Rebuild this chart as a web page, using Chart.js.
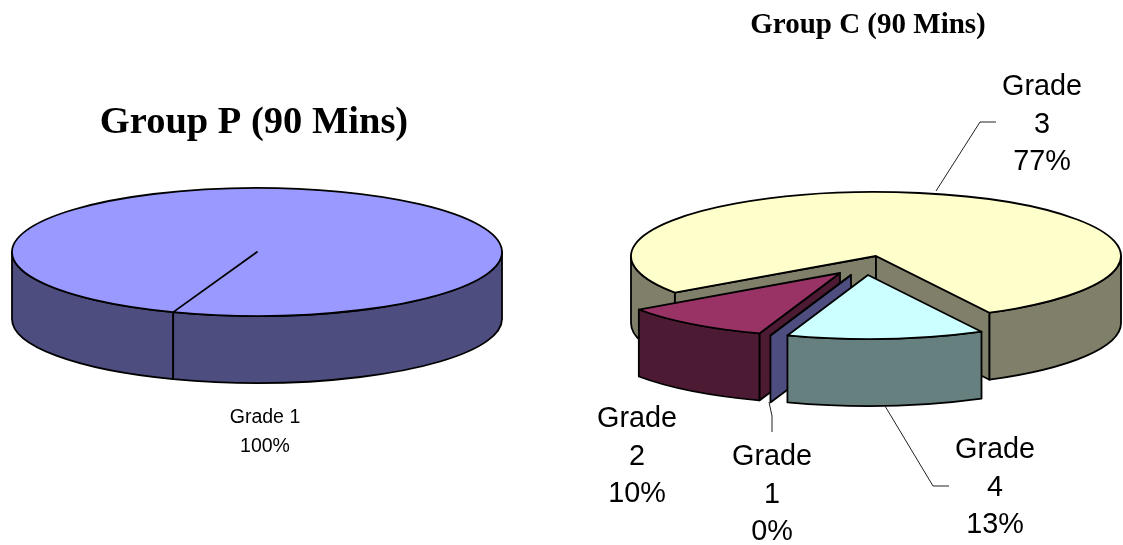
<!DOCTYPE html>
<html>
<head>
<meta charset="utf-8">
<title>Group P and Group C (90 Mins)</title>
<script src="https://cdn.jsdelivr.net/npm/chart.js@4"></script>
<style>
  html, body { margin: 0; background: #fff; overflow: hidden; }
  canvas { position: absolute; top: 0; }
</style>
</head>
<body>
<canvas id="pieP" width="560" height="545" style="left:0"></canvas>
<canvas id="pieC" width="563" height="545" style="left:560px"></canvas>
<script>
// Chart values
const categoriesP = ["Grade 1"];
const valuesP = [100];
const categoriesC = ["Grade 1", "Grade 2", "Grade 3", "Grade 4"];
const valuesC = [0, 10, 77, 13];

// Slice colours, top face and side wall
const topColoursP = ["#9999FF"];
const wallColoursP = ["#4D4D80"];
const topColoursC = ["#9999FF", "#993366", "#FFFFCC", "#CCFFFF"];
const wallColoursC = ["#4D4D80", "#4D1A33", "#80806A", "#668080"];

const RADIUS = 245;
const SQUASH = 64 / 245;
const DEPTH = 67;
const TAU = Math.PI * 2;

// Pulls the exploded slices away from the pie centre, then tilts the pie and
// gives it a side wall. Outlines are stroked without the tilt so the pen stays even.
const pie3d = {
  id: "pie3d",
  afterDatasetsUpdate(chart, args, opts) {
    chart.getDatasetMeta(0).data.forEach((arc, i) => {
      const shift = opts.explode[i];
      arc.x = chart.width / 2 + shift[0];
      arc.y = chart.height / 2 + shift[1] / SQUASH;
    });
  },
  beforeDatasetsDraw(chart, args, opts) {
    const ctx = chart.ctx;
    const arcs = chart.getDatasetMeta(0).data.map((arc, i) => sliceInfo(arc, i, opts));
    arcs.sort((a, b) => a.sortY - b.sortY);

    ctx.save();
    ctx.translate(-opts.left, 0);
    arcs.forEach(s => drawWalls(ctx, s, opts));
    ctx.restore();

    // The library paints the top faces inside this transform
    ctx.save();
    ctx.translate(opts.cx - opts.left, opts.cy);
    ctx.scale(1, SQUASH);
    ctx.translate(-chart.width / 2, -chart.height / 2);
  },
  afterDatasetsDraw(chart, args, opts) {
    const ctx = chart.ctx;
    ctx.restore();
    ctx.save();
    ctx.translate(-opts.left, 0);

    chart.getDatasetMeta(0).data.forEach((arc, i) => {
      const s = sliceInfo(arc, i, opts);
      ctx.beginPath();
      ctx.moveTo(s.x, s.y);
      ctx.ellipse(s.x, s.y, RADIUS, RADIUS * SQUASH, 0, s.a0, s.a1);
      ctx.closePath();
      outline(ctx);
    });

    // Leader lines
    ctx.strokeStyle = "#222";
    ctx.lineWidth = 1;
    opts.leaders.forEach(pts => {
      ctx.beginPath();
      pts.forEach((p, j) => (j ? ctx.lineTo(p[0], p[1]) : ctx.moveTo(p[0], p[1])));
      ctx.stroke();
    });

    // Slice labels
    ctx.fillStyle = "#000";
    ctx.textAlign = "center";
    ctx.textBaseline = "alphabetic";
    ctx.font = opts.labelFont;
    const names = chart.data.labels;
    const vals = chart.data.datasets[0].data;
    names.forEach((name, i) => {
      const at = opts.labelAt[i];
      const lines = opts.wrap ? name.split(" ") : [name];
      lines.push(vals[i] + "%");
      lines.forEach((t, j) => ctx.fillText(t, at[0], at[1] + j * opts.lineGap));
    });

    // Title
    ctx.font = opts.titleFont;
    ctx.fillText(opts.title, opts.titleAt[0], opts.titleAt[1]);
    ctx.restore();
  }
};

function sliceInfo(arc, i, opts) {
  const shift = opts.explode[i];
  const mid = (arc.startAngle + arc.endAngle) / 2;
  const x = opts.cx + shift[0];
  const y = opts.cy + shift[1];
  return {
    x, y,
    a0: arc.startAngle,
    a1: arc.endAngle,
    wall: opts.walls[i],
    sortY: y + RADIUS * SQUASH * Math.sin(mid)
  };
}

function outline(ctx) {
  ctx.strokeStyle = "#000";
  ctx.lineWidth = 1.8;
  ctx.lineJoin = "round";
  ctx.stroke();
}

// Outer rim facing the viewer, plus any cut face turned towards the viewer
function drawWalls(ctx, s, opts) {
  ctx.fillStyle = s.wall;
  const span = s.a1 - s.a0;
  const ry = RADIUS * SQUASH;

  if (span < TAU - 0.001) {
    [[s.a0, Math.cos(s.a0) < 0], [s.a1, Math.cos(s.a1) > 0]].forEach(([a, visible]) => {
      if (!visible) return;
      const px = s.x + RADIUS * Math.cos(a);
      const py = s.y + ry * Math.sin(a);
      ctx.beginPath();
      ctx.moveTo(s.x, s.y);
      ctx.lineTo(px, py);
      ctx.lineTo(px, py + DEPTH);
      ctx.lineTo(s.x, s.y + DEPTH);
      ctx.closePath();
      ctx.fill();
      outline(ctx);
    });
  }

  const start = ((s.a0 % TAU) + TAU) % TAU;
  const end = start + span;
  [0, TAU].forEach(lo => {
    const from = Math.max(start, lo);
    const to = Math.min(end, lo + Math.PI);
    if (to <= from) return;
    ctx.beginPath();
    ctx.ellipse(s.x, s.y, RADIUS, ry, 0, from, to);
    ctx.ellipse(s.x, s.y + DEPTH, RADIUS, ry, 0, to, from, true);
    ctx.closePath();
    ctx.fill();
    outline(ctx);
  });
}

function makePie(id, labels, values, tops, rotation, settings) {
  new Chart(document.getElementById(id), {
    type: "pie",
    data: {
      labels,
      datasets: [{
        data: values,
        backgroundColor: tops,
        borderWidth: 0,
        radius: RADIUS,
        clip: false
      }]
    },
    options: {
      responsive: false,
      animation: false,
      rotation,
      layout: { padding: 0 },
      events: [],
      plugins: {
        legend: { display: false },
        tooltip: { enabled: false },
        pie3d: settings
      }
    },
    plugins: [pie3d]
  });
}

makePie("pieP", categoriesP, valuesP, topColoursP, 200, {
  left: 0,
  cx: 257,
  cy: 252,
  walls: wallColoursP,
  explode: [[0, 0]],
  leaders: [],
  labelFont: "19.5px 'Liberation Sans'",
  labelAt: [[265, 423]],
  lineGap: 29,
  wrap: false,
  title: "Group P (90 Mins)",
  titleFont: "bold 38.5px 'Liberation Serif'",
  titleAt: [254, 133]
});

makePie("pieC", categoriesC, valuesC, topColoursC, 199.2, {
  left: 560,
  cx: 876,
  cy: 256,
  walls: wallColoursC,
  explode: [[-25, 19], [-36, 17], [0, 0], [-8, 19]],
  leaders: [
    [[769, 402], [772, 416], [772, 432]],
    [[936, 191], [980, 122], [996, 122]],
    [[885, 406], [933, 486], [949, 486]]
  ],
  labelFont: "28.8px 'Liberation Sans'",
  labelAt: [[772, 465], [637, 427], [1042, 95], [995, 458]],
  lineGap: 37.5,
  wrap: true,
  title: "Group C (90 Mins)",
  titleFont: "bold 29px 'Liberation Serif'",
  titleAt: [868, 33]
});
</script>
</body>
</html>
